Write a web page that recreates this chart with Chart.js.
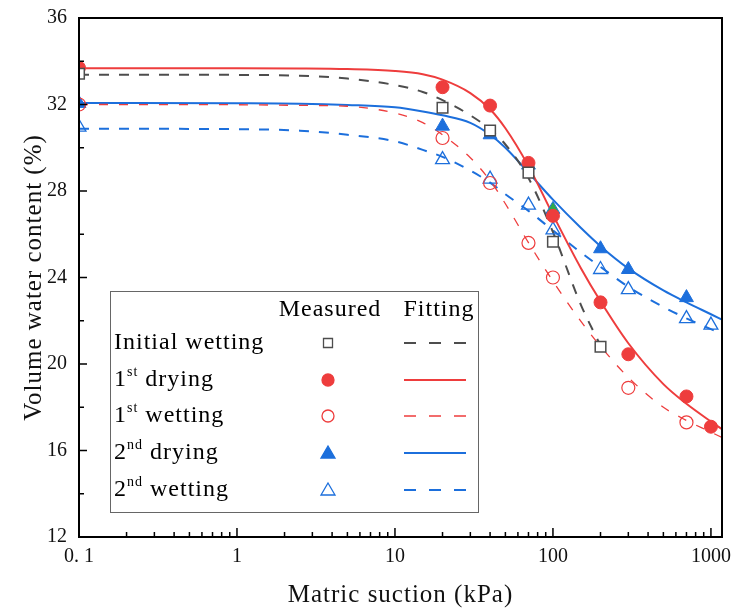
<!DOCTYPE html>
<html>
<head>
<meta charset="utf-8">
<script src="https://cdn.jsdelivr.net/npm/chart.js@4.4.0/dist/chart.umd.min.js"></script>
<style>
    body { margin: 0; background: #fff; }
    #wrap { width: 735px; height: 610px; }
</style>
</head>
<body>
<div id="wrap"><canvas id="myChart" width="735" height="610"></canvas></div>
<script>

// measured points
const iwX = [0.1, 20, 40, 70, 100, 200];
const iwY = [33.42, 31.85, 30.8, 28.85, 25.65, 20.8];

const d1X = [0.1, 20, 40, 70, 100, 200, 300, 700, 1000];
const d1Y = [33.7, 32.8, 31.95, 29.3, 26.85, 22.85, 20.45, 18.5, 17.1];

const w1X = [0.1, 20, 40, 70, 100, 300, 700];
const w1Y = [32.0, 30.45, 28.37, 25.6, 24.0, 18.9, 17.3];

const d2X = [0.1, 20, 40, 70, 100, 200, 300, 700];
const d2Y = [32.05, 31.0, 30.6, 29.2, 27.15, 25.33, 24.37, 23.07];

const w2X = [0.1, 20, 40, 70, 100, 200, 300, 700, 1000];
const w2Y = [30.95, 29.45, 28.55, 27.35, 26.2, 24.37, 23.44, 22.1, 21.8];

// fitted curves
const fitX = [0.1, 1, 2.5, 5, 10, 15, 20, 30, 40, 50, 70, 100, 150, 200, 300, 500, 700, 1000, 1175];
const iwFit = [33.38, 33.37, 33.33, 33.2, 32.9, 32.58, 32.2, 31.5, 30.85, 30.15, 28.6, 26.1, 22.75, 20.85];
const d1Fit = [33.68, 33.68, 33.67, 33.64, 33.55, 33.4, 33.15, 32.53, 31.78, 30.9, 29.15, 26.9, 24.44, 22.9, 20.96, 19.07, 18.16, 17.34, 16.99];
const w1Fit = [32.0, 31.99, 31.96, 31.92, 31.6, 31.16, 30.6, 29.54, 28.48, 27.41, 25.61, 23.83, 21.98, 20.82, 19.38, 18.0, 17.39, 16.85, 16.6];
const d2Fit = [32.07, 32.06, 32.04, 31.98, 31.87, 31.68, 31.5, 31.15, 30.6, 30.0, 28.85, 27.6, 26.3, 25.45, 24.42, 23.4, 22.85, 22.3, 22.05];
const w2Fit = [30.88, 30.86, 30.79, 30.6, 30.3, 29.9, 29.58, 28.94, 28.39, 27.85, 27.08, 26.18, 25.16, 24.49, 23.57, 22.64, 22.11, 21.61, 21.4];

const xTicks = [0.1, 1, 10, 100, 1000];
const xTickLabels = ['0. 1', '1', '10', '100', '1000'];

const seriesNames = ['Initial wetting', '1st drying', '1st wetting', '2nd drying', '2nd wetting'];

const GRAY = '#4d4d4d';
const RED = '#ee3d3d';
const BLUE = '#1c6fdc';
const GREEN = '#2faa4c';
const FONT = "'Liberation Serif', 'Times New Roman', serif";

function pts(xs, ys) {
    return ys.map((y, i) => ({x: xs[i], y: y}));
}

function fitLine(ys, color, dash, width) {
    return {
        type: 'line',
        data: pts(fitX, ys),
        borderColor: color,
        borderWidth: width,
        borderDash: dash,
        pointRadius: 0,
        fill: false,
        cubicInterpolationMode: 'monotone'
    };
}

// the two overlapping triangles near 70 and 100 kPa show green
const d2Fill = d2X.map(x => (x === 70 || x === 100) ? GREEN : BLUE);

const datasets = [
    {type: 'scatter', data: pts(iwX, iwY), pointStyle: 'rect', pointRadius: 7.5, borderColor: GRAY, borderWidth: 1.5, backgroundColor: '#fff'},
    {type: 'scatter', data: pts(d1X, d1Y), pointStyle: 'circle', pointRadius: 6.5, borderColor: RED, borderWidth: 1, backgroundColor: RED},
    {type: 'scatter', data: pts(w1X, w1Y), pointStyle: 'circle', pointRadius: 6.5, borderColor: RED, borderWidth: 1.2, backgroundColor: 'rgba(255,255,255,0)'},
    {type: 'scatter', data: pts(d2X, d2Y), pointStyle: 'triangle', pointRadius: 8, borderColor: BLUE, borderWidth: 1, backgroundColor: d2Fill},
    {type: 'scatter', data: pts(w2X, w2Y), pointStyle: 'triangle', pointRadius: 8, borderColor: BLUE, borderWidth: 1.3, backgroundColor: 'rgba(255,255,255,0)'},
    fitLine(iwFit, GRAY, [10, 10], 2),
    fitLine(d1Fit, RED, [], 2),
    fitLine(w1Fit, RED, [9, 11], 1.3),
    fitLine(d2Fit, BLUE, [], 2),
    fitLine(w2Fit, BLUE, [10, 10], 2)
];

// box, inward ticks, axis titles and the table-style legend
const frameAndLegend = {
    id: 'frameAndLegend',
    afterDraw(chart) {
        const {ctx, chartArea: {left, right, top, bottom}, scales: {x, y}} = chart;
        ctx.save();
        ctx.strokeStyle = '#000';
        ctx.lineWidth = 2;
        ctx.strokeRect(left, top, right - left, bottom - top);

        ctx.lineWidth = 1.5;
        ctx.beginPath();
        xTicks.forEach(v => {
            const px = x.getPixelForValue(v);
            ctx.moveTo(px, bottom); ctx.lineTo(px, bottom - 9);
        });
        [0.1, 1, 10, 100, 1000].forEach(d => {
            for (let k = 2; k <= 9; k++) {
                if (d * k > x.max) continue;
                const px = x.getPixelForValue(d * k);
                ctx.moveTo(px, bottom); ctx.lineTo(px, bottom - 5);
            }
        });
        for (let v = 12; v <= 36; v += 2) {
            const py = y.getPixelForValue(v);
            const len = v % 4 === 0 ? 8 : 5;
            ctx.moveTo(left, py); ctx.lineTo(left + len, py);
        }
        ctx.stroke();

        ctx.letterSpacing = '1px';
        ctx.fillStyle = '#111';
        ctx.textAlign = 'center';
        ctx.textBaseline = 'middle';
        ctx.font = '25px ' + FONT;
        ctx.fillText('Matric suction (kPa)', (left + right) / 2, 595);
        ctx.save();
        ctx.translate(34, (top + bottom) / 2);
        ctx.rotate(-Math.PI / 2);
        ctx.fillText('Volume water content (%)', 0, 0);
        ctx.restore();

        // legend box
        ctx.strokeStyle = '#666';
        ctx.lineWidth = 1;
        ctx.strokeRect(110.5, 291.5, 368, 221);

        ctx.fillStyle = '#000';
        ctx.font = '24px ' + FONT;
        ctx.fillText('Measured', 330, 310);
        ctx.fillText('Fitting', 439, 310);

        const rowY = [343, 380, 416, 453, 490];
        seriesNames.forEach((name, i) => {
            const ry = rowY[i];
            ctx.textAlign = 'left';
            ctx.fillStyle = '#000';
            const m = name.match(/^(\d)(st|nd)( .*)$/);
            if (m) {
                ctx.font = '24px ' + FONT;
                ctx.fillText(m[1], 114, ry);
                let cx = 114 + ctx.measureText(m[1]).width;
                ctx.font = '14px ' + FONT;
                ctx.fillText(m[2], cx, ry - 8);
                cx += ctx.measureText(m[2]).width;
                ctx.font = '24px ' + FONT;
                ctx.fillText(m[3], cx, ry);
            } else {
                ctx.font = '24px ' + FONT;
                ctx.fillText(name, 114, ry);
            }

            // marker
            const ds = chart.data.datasets[i];
            const mx = 328;
            ctx.lineWidth = 1.3;
            ctx.beginPath();
            if (ds.pointStyle === 'rect') {
                ctx.rect(mx - 4.5, ry - 4.5, 9, 9);
            } else if (ds.pointStyle === 'circle') {
                ctx.arc(mx, ry, 6, 0, Math.PI * 2);
            } else {
                ctx.moveTo(mx, ry - 7);
                ctx.lineTo(mx + 7, ry + 5);
                ctx.lineTo(mx - 7, ry + 5);
                ctx.closePath();
            }
            const fillCol = Array.isArray(ds.backgroundColor) ? BLUE : ds.backgroundColor;
            ctx.fillStyle = fillCol;
            ctx.fill();
            ctx.strokeStyle = ds.borderColor;
            ctx.stroke();

            // fitting line sample
            const ln = chart.data.datasets[i + 5];
            ctx.beginPath();
            ctx.setLineDash(ln.borderDash.length ? [12, 13] : []);
            ctx.lineWidth = ln.borderWidth;
            ctx.strokeStyle = ln.borderColor;
            ctx.moveTo(404, ry);
            ctx.lineTo(466, ry);
            ctx.stroke();
            ctx.setLineDash([]);
        });
        ctx.restore();
    }
};

new Chart(document.getElementById('myChart'), {
    type: 'scatter',
    data: {datasets: datasets},
    options: {
        responsive: false,
        animation: false,
        layout: {padding: {top: 18, right: 13, left: 0, bottom: 0}},
        plugins: {
            legend: {display: false},
            tooltip: {enabled: false}
        },
        scales: {
            x: {
                type: 'logarithmic',
                min: 0.1,
                max: 1175,
                afterBuildTicks: (scale) => {
                    scale.ticks = xTicks.map(v => ({value: v}));
                },
                afterFit: (scale) => {
                    scale.height = 73;
                    scale.paddingLeft = 0;
                    scale.paddingRight = 0;
                },
                grid: {display: false, drawTicks: false},
                border: {display: false},
                ticks: {
                    autoSkip: false,
                    maxRotation: 0,
                    padding: 8,
                    color: '#111',
                    font: {family: FONT, size: 20},
                    callback: (value, index) => xTickLabels[index]
                }
            },
            y: {
                min: 12,
                max: 36,
                afterFit: (scale) => {
                    scale.width = 79;
                    scale.paddingTop = 0;
                    scale.paddingBottom = 0;
                },
                grid: {display: false, drawTicks: false},
                border: {display: false},
                ticks: {
                    stepSize: 4,
                    padding: 12,
                    color: '#111',
                    font: {family: FONT, size: 20}
                }
            }
        }
    },
    plugins: [frameAndLegend]
});
</script>
</body>
</html>
